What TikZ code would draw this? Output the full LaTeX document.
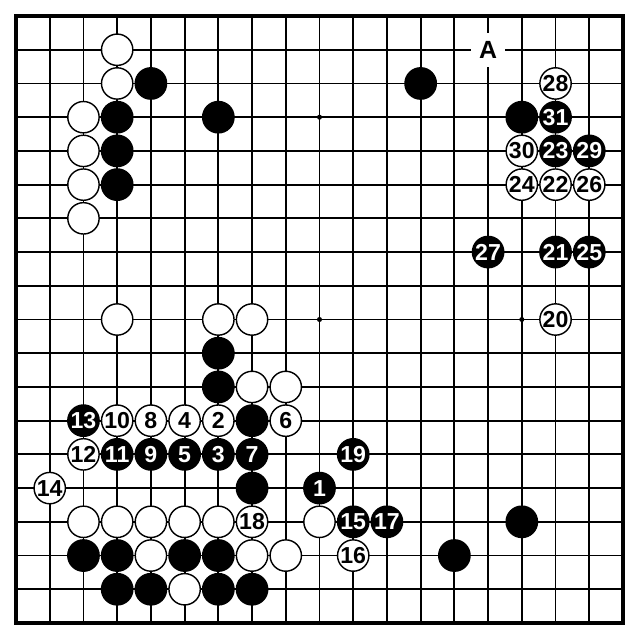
\documentclass[tikz,border=0pt]{standalone}
\usepackage{fontspec}
\setmainfont{Liberation Sans}
\usepackage{tikz}

\begin{document}
\begin{tikzpicture}[y=-1cm]
	% STYLES
	\tikzstyle{ligne} = [line width=1.6pt, draw=black]
	\tikzstyle{bord} = [line width=3.4pt, draw=black]
	\tikzstyle{pierre} = [circle, draw=black, line width=1.2pt, minimum size=0.93cm, inner sep=0pt, font=\fontsize{19.5}{19.5}\selectfont\bfseries]
	\tikzstyle{noir} = [pierre, fill=black, text=white]
	\tikzstyle{blanc} = [pierre, fill=white, text=black]
	\tikzstyle{marque} = [fill=white, draw=none, minimum size=1cm, inner sep=0pt, font=\fontsize{21}{21}\selectfont\bfseries]

	\useasboundingbox (-0.475, -0.475) rectangle (18.505, 18.445);

	% GRILLE
	\foreach \i in {0, 1, ..., 18} {
		\draw[ligne] (\i, 0) -- (\i, 18);
		\draw[ligne] (0, \i) -- (18, \i);
	}
	\draw[bord] (0, 0) rectangle (18, 18);

	% HOSHI
	\foreach \x in {3, 9, 15}
		\foreach \y in {3, 9, 15}
			\fill (\x, \y) circle (.075);

	% PIERRES NOIRES
	\foreach \x/\y in {4/2, 3/3, 3/4, 3/5, 6/3, 12/2, 15/3, 6/10, 6/11, 7/12, 7/14, 15/15,
		2/16, 3/16, 5/16, 6/16, 13/16, 3/17, 4/17, 6/17, 7/17}
		\node[noir] (n-\x-\y) at (\x, \y) {};

	% PIERRES BLANCHES
	\foreach \x/\y in {3/1, 3/2, 2/3, 2/4, 2/5, 2/6, 3/9, 6/9, 7/9, 7/11, 8/11,
		2/15, 3/15, 4/15, 5/15, 6/15, 9/15, 4/16, 7/16, 8/16, 5/17}
		\node[blanc] (b-\x-\y) at (\x, \y) {};

	% COUPS NOIRS
	\foreach \k/\x/\y in {1/9/14, 3/6/13, 5/5/13, 7/7/13, 9/4/13, 11/3/13, 13/2/12, 15/10/15,
		17/11/15, 19/10/13, 21/16/7, 23/16/4, 25/17/7, 27/14/7, 29/17/4, 31/16/3}
		\node[noir] (coup\k) at (\x, \y) {\k};

	% COUPS BLANCS
	\foreach \k/\x/\y in {2/6/12, 4/5/12, 6/8/12, 8/4/12, 10/3/12, 12/2/13, 14/1/14, 16/10/16,
		18/7/15, 20/16/9, 22/16/5, 24/15/5, 26/17/5, 28/16/2, 30/15/4}
		\node[blanc] (coup\k) at (\x, \y) {\k};

	% A
	\node[marque] (A) at (14, 1) {A};
\end{tikzpicture}
\end{document}
